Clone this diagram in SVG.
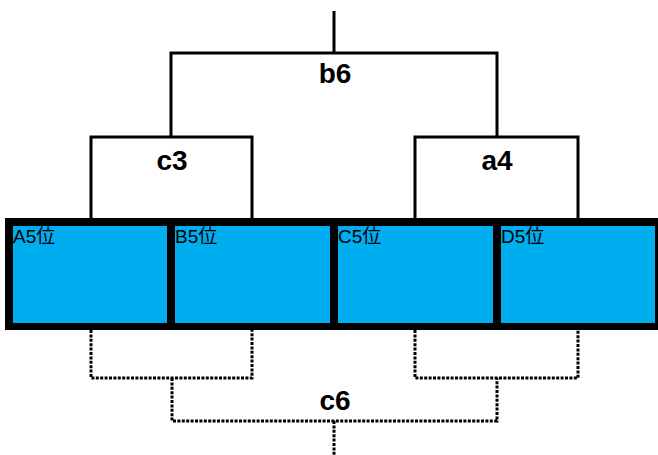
<svg xmlns="http://www.w3.org/2000/svg" width="658" height="455" viewBox="0 0 658 455">
<style>
.ln{fill:none;stroke:#000;stroke-width:3}
.dt{fill:none;stroke:#000;stroke-width:3;stroke-dasharray:3,1.4}
.lbl{font-family:"Liberation Sans",Arial,sans-serif;font-weight:bold;font-size:28px;text-anchor:middle;fill:#000}
.cell{fill:#00AEEF}
.ct{font-family:"Liberation Sans","Noto Sans CJK JP",sans-serif;font-size:19px;fill:#000}
</style>
<rect x="0" y="0" width="658" height="455" fill="#fff"/>
<g id="connectors">
<path class="ln" d="M334,11 V53 M171,137 V53 H497 V137"/>
<path class="ln" d="M91,218 V137 H252 V218"/>
<path class="ln" d="M415,218 V137 H578 V218"/>
<path class="dt" d="M91,330 V378 H252 V330"/>
<path class="dt" d="M415,330 V378 H578 V330"/>
<path class="dt" d="M172,378 V421 H497 V378"/>
<path class="dt" d="M334,421 V455"/>
</g>
<g id="b6"><text class="lbl" x="335" y="83">b6</text></g>
<g id="c3"><text class="lbl" x="172" y="170">c3</text></g>
<g id="a4"><text class="lbl" x="497" y="170">a4</text></g>
<g id="c6"><text class="lbl" x="335" y="410">c6</text></g>
<g id="frame"><rect x="5" y="218" width="660" height="112" fill="#000"/></g>
<g id="A5"><rect class="cell" x="13" y="226" width="154" height="97"/><text class="ct" x="13" y="243">A5位</text></g>
<g id="B5"><rect class="cell" x="175" y="226" width="155" height="97"/><text class="ct" x="175" y="243">B5位</text></g>
<g id="C5"><rect class="cell" x="338" y="226" width="155" height="97"/><text class="ct" x="338" y="243">C5位</text></g>
<g id="D5"><rect class="cell" x="501" y="226" width="154" height="97"/><text class="ct" x="501" y="243">D5位</text></g>
</svg>
